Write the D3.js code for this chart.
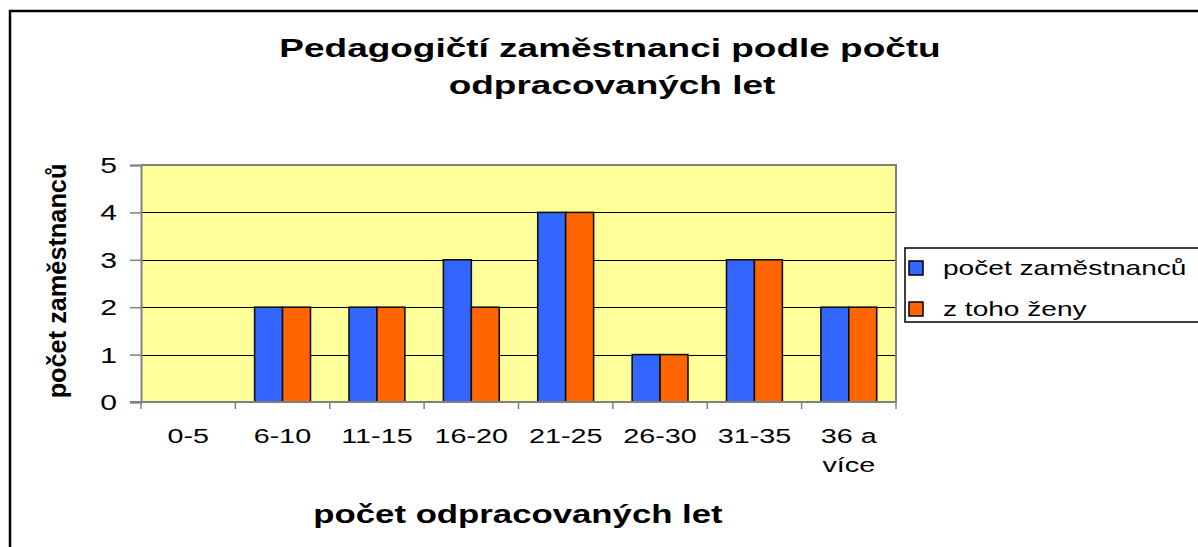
<!DOCTYPE html>
<html>
<head>
<meta charset="utf-8">
<script src="https://cdn.jsdelivr.net/npm/d3@7"></script>
<style>
    html, body { margin: 0; padding: 0; background: #fff; overflow: hidden; }
    text { font-family: Arial, "Liberation Sans", sans-serif; fill: #000; }
</style>
</head>
<body>
<div id="chart"></div>
<script>
"use strict";
// data
const categories = ["0-5", "6-10", "11-15", "16-20", "21-25", "26-30", "31-35", "36 a\nvíce"];
const seriesNames = ["počet zaměstnanců", "z toho ženy"];
const pocetZamestnancu = [0, 2, 2, 3, 4, 1, 3, 2];
const zTohoZeny = [0, 2, 2, 2, 4, 1, 3, 2];
const yTicks = [0, 1, 2, 3, 4, 5];
const titleLines = ["Pedagogičtí zaměstnanci podle počtu", "odpracovaných let"];

(function() {
    const width = 1198, height = 547;
    const plot = { left: 141, right: 896, top: 165, bottom: 402 };
    const colors = ["#3366FF", "#FF6600"];
    const seriesValues = [pocetZamestnancu, zTohoZeny];
    // the original picture is stretched sideways, so is the text
    const sx = 1.37;

    const svg = d3.select("#chart").append("svg")
        .attr("width", width)
        .attr("height", height);

    function stretched(parent, x, y, k) {
        return parent.append("text")
            .attr("transform", "translate(" + x + "," + y + ") scale(" + (k || sx) + ",1)");
    }

    // outer chart frame (runs off the right and bottom edge)
    svg.append("rect")
        .attr("x", 10).attr("y", 11)
        .attr("width", 1210).attr("height", 560)
        .attr("fill", "#fff")
        .attr("stroke", "#000")
        .attr("stroke-width", 2.5);

    // title
    stretched(svg, 610, 57, 1.395)
        .attr("text-anchor", "middle")
        .attr("font-size", "26.5px").attr("font-weight", "bold")
        .text(titleLines[0]);
    stretched(svg, 612, 94, 1.395)
        .attr("text-anchor", "middle")
        .attr("font-size", "26.5px").attr("font-weight", "bold")
        .text(titleLines[1]);

    const xScale = d3.scaleBand()
        .domain(categories)
        .range([plot.left, plot.right])
        .padding(0);
    const xInner = d3.scaleBand()
        .domain(seriesNames)
        .range([0, xScale.bandwidth()])
        .paddingInner(0)
        .paddingOuter(0.69);
    const yScale = d3.scaleLinear()
        .domain([0, 5])
        .range([plot.bottom, plot.top]);

    // plot background
    svg.append("rect")
        .attr("x", plot.left).attr("y", plot.top)
        .attr("width", plot.right - plot.left)
        .attr("height", plot.bottom - plot.top)
        .attr("fill", "#FFFF99");

    // gridlines
    svg.append("g")
        .selectAll("line")
        .data(yTicks.filter(d => d > 0 && d < 5))
        .enter()
        .append("line")
            .attr("x1", plot.left).attr("x2", plot.right)
            .attr("y1", d => Math.round(yScale(d)) + 0.5)
            .attr("y2", d => Math.round(yScale(d)) + 0.5)
            .attr("stroke", "#000")
            .attr("stroke-width", 1);

    // plot border (top + right)
    svg.append("path")
        .attr("d", "M" + plot.left + "," + plot.top + "H" + plot.right + "V" + plot.bottom)
        .attr("fill", "none")
        .attr("stroke", "#808080")
        .attr("stroke-width", 2);

    // bars
    const groups = svg.append("g")
        .selectAll("g")
        .data(categories)
        .enter()
        .append("g")
            .attr("transform", d => "translate(" + xScale(d) + ",0)");

    groups.selectAll("rect")
        .data((d, i) => seriesNames.map((s, j) => ({ series: s, idx: j, value: seriesValues[j][i] })))
        .enter()
        .filter(d => d.value > 0)
        .append("rect")
            .attr("x", d => xInner(d.series))
            .attr("y", d => yScale(d.value))
            .attr("width", xInner.bandwidth())
            .attr("height", d => yScale(0) - yScale(d.value))
            .attr("fill", d => colors[d.idx])
            .attr("stroke", "#111")
            .attr("stroke-width", 1.6);

    // y axis
    const yAxis = svg.append("g")
        .attr("transform", "translate(" + plot.left + ",0)")
        .call(d3.axisLeft(yScale).tickValues(yTicks).tickSize(11).tickFormat(""));
    yAxis.select(".domain").attr("stroke", "#808080").attr("stroke-width", 2);
    yAxis.selectAll(".tick line").attr("stroke", "#808080").attr("stroke-width", 1.5);
    svg.append("g")
        .selectAll("text")
        .data(yTicks)
        .enter()
        .append("text")
            .attr("transform", d => "translate(117," + (yScale(d) + 8) + ") scale(" + sx + ",1)")
            .attr("text-anchor", "end")
            .attr("font-size", "22px")
            .text(d => d);

    // x axis: ticks at category boundaries
    const xAxis = svg.append("g");
    xAxis.append("line")
        .attr("x1", plot.left - 11).attr("x2", plot.right)
        .attr("y1", plot.bottom).attr("y2", plot.bottom)
        .attr("stroke", "#808080").attr("stroke-width", 2);
    xAxis.selectAll(".xtick")
        .data(categories.concat(["end"]))
        .enter()
        .append("line")
            .attr("class", "xtick")
            .attr("x1", (d, i) => i < categories.length ? xScale(d) : plot.right)
            .attr("x2", (d, i) => i < categories.length ? xScale(d) : plot.right)
            .attr("y1", plot.bottom).attr("y2", plot.bottom + 7)
            .attr("stroke", "#808080").attr("stroke-width", 1.5);

    const labels = xAxis.selectAll(".xlabel")
        .data(categories)
        .enter()
        .append("text")
            .attr("class", "xlabel")
            .attr("transform", d => "translate(" + (xScale(d) + xScale.bandwidth() / 2) + ",443) scale(" + sx + ",1)")
            .attr("text-anchor", "middle")
            .attr("font-size", "21px");
    labels.selectAll("tspan")
        .data(d => d.split("\n"))
        .enter()
        .append("tspan")
            .attr("x", 0)
            .attr("dy", (d, i) => i === 0 ? 0 : 29)
            .text(d => d);

    // axis titles
    stretched(svg, 518, 523, 1.39)
        .attr("text-anchor", "middle")
        .attr("font-size", "25px").attr("font-weight", "bold")
        .text("počet odpracovaných let");

    svg.append("text")
        .attr("transform", "translate(66,281) rotate(-90) scale(1.15,1.2)")
        .attr("text-anchor", "middle")
        .attr("font-size", "22px").attr("font-weight", "bold")
        .text("počet zaměstnanců");

    // legend
    const legend = svg.append("g");
    legend.append("rect")
        .attr("x", 905).attr("y", 248)
        .attr("width", 320).attr("height", 74)
        .attr("fill", "#fff")
        .attr("stroke", "#000").attr("stroke-width", 1.5);
    const items = legend.selectAll(".item")
        .data(seriesNames)
        .enter()
        .append("g")
            .attr("class", "item")
            .attr("transform", (d, i) => "translate(0," + (i * 41) + ")");
    items.append("rect")
        .attr("x", 909).attr("y", 261)
        .attr("width", 14).attr("height", 14)
        .attr("fill", (d, i) => colors[i])
        .attr("stroke", "#000").attr("stroke-width", 1.5);
    items.append("text")
        .attr("transform", "translate(943,275) scale(" + sx + ",1)")
        .attr("font-size", "20.5px")
        .text(d => d);
})();
</script>
</body>
</html>
